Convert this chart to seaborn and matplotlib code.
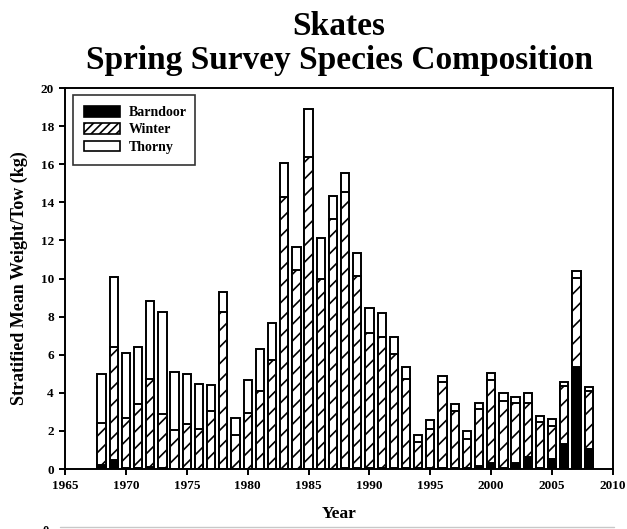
import numpy as np
import pandas as pd
import matplotlib
matplotlib.use("Agg")
import matplotlib.pyplot as plt
from matplotlib.patches import Patch
from matplotlib.lines import Line2D
import seaborn as sns

# Stratified mean weight per tow (kg), spring survey
years = list(range(1968, 2009))
barndoor = [0.20, 0.47, 0.03, 0.03, 0.10, 0.03, 0.02, 0.02, 0.02, 0.02,
            0.02, 0.02, 0.02, 0.02, 0.02, 0.02, 0.02, 0.02, 0.02, 0.02,
            0.03, 0.03, 0.03, 0.03, 0.05, 0.03, 0.03, 0.03, 0.03, 0.03,
            0.05, 0.18, 0.33, 0.05, 0.33, 0.65, 0.03, 0.51, 1.31, 5.34, 1.07]
winter_cum = [2.41, 6.39, 2.66, 3.41, 4.72, 2.89, 2.03, 2.35, 2.08, 3.03,
              8.22, 1.77, 2.92, 4.09, 5.72, 14.30, 10.43, 16.36, 9.96, 13.12,
              14.54, 10.13, 7.16, 6.91, 6.02, 4.72, 1.42, 2.10, 4.57, 3.04,
              1.57, 3.13, 4.67, 3.57, 3.45, 3.46, 2.45, 2.24, 4.34, 10.04, 4.08]
total = [5.00, 10.08, 6.07, 6.42, 8.80, 8.26, 5.11, 4.97, 4.46, 4.39,
         9.29, 2.68, 4.66, 6.30, 7.66, 16.06, 11.65, 18.88, 12.14, 14.31,
         15.52, 11.34, 8.43, 8.21, 6.95, 5.33, 1.80, 2.59, 4.86, 3.43,
         2.01, 3.46, 5.06, 4.01, 3.76, 3.97, 2.80, 2.62, 4.58, 10.41, 4.29]

df = pd.DataFrame({"year": years, "barndoor": barndoor,
                   "winter_cum": winter_cum, "total": total})

sns.set_style("ticks")
plt.rcParams["font.family"] = ["Liberation Serif", "DejaVu Serif"]
plt.rcParams["font.weight"] = "bold"
plt.rcParams["hatch.linewidth"] = 1.2
for k in ["text.color", "axes.labelcolor", "xtick.color", "ytick.color", "axes.edgecolor"]:
    plt.rcParams[k] = "black"

fig = plt.figure(figsize=(6.27, 5.29), dpi=100)
ax = fig.add_axes([0.1037, 0.1134, 0.8740, 0.7202])

bar_kw = dict(native_scale=True, width=0.68, edgecolor="black",
              linewidth=1.4, ax=ax, errorbar=None)
# stacked: thorny on top, then winter (hatched), then barndoor (black)
sns.barplot(data=df, x="year", y="total", color="white", **bar_kw)
sns.barplot(data=df, x="year", y="winter_cum", color="white", hatch="//", **bar_kw)
sns.barplot(data=df, x="year", y="barndoor", color="black", **bar_kw)

ax.set_xlim(1965, 2010)
ax.set_ylim(0, 20)
ax.set_xticks(range(1965, 2011, 5))
ax.set_yticks(range(0, 21, 2))
ax.tick_params(axis="both", labelsize=9.5, width=1.4, length=4.5, direction="out")
for lab in ax.get_xticklabels() + ax.get_yticklabels():
    lab.set_fontweight("bold")
for s in ax.spines.values():
    s.set_linewidth(1.4)
    s.set_visible(True)

ax.set_xlabel("Year", fontsize=12.5, fontweight="bold", labelpad=10)
ax.set_ylabel("Stratified Mean Weight/Tow (kg)", fontsize=13, fontweight="bold", labelpad=9)
ax.set_title("Skates\nSpring Survey Species Composition", fontsize=24,
             fontweight="bold", pad=14, linespacing=1.12)

handles = [Patch(facecolor="black", edgecolor="black", linewidth=1.2, label="Barndoor"),
           Patch(facecolor="white", edgecolor="black", linewidth=1.2, hatch="////", label="Winter"),
           Patch(facecolor="white", edgecolor="black", linewidth=1.2, label="Thorny")]
leg = ax.legend(handles=handles, loc="upper left", bbox_to_anchor=(0.0145, 0.982, 0.223, 0.0),
                mode="expand", borderaxespad=0, frameon=True, fancybox=False,
                edgecolor="black", fontsize=10, handlelength=2.6, handleheight=0.8,
                labelspacing=0.3, borderpad=0.8, handletextpad=0.6)
leg.get_frame().set_linewidth(1.2)
for t in leg.get_texts():
    t.set_fontweight("bold")

# edge of the next chart on the page, cut off at the bottom
fig.text(0.068, -0.004, "0", fontsize=9, fontweight="bold", va="center")
fig.add_artist(Line2D([0.096, 0.98], [0.004, 0.004], color="#c8c8c8", linewidth=1))

fig.savefig("out.png", dpi=100)
